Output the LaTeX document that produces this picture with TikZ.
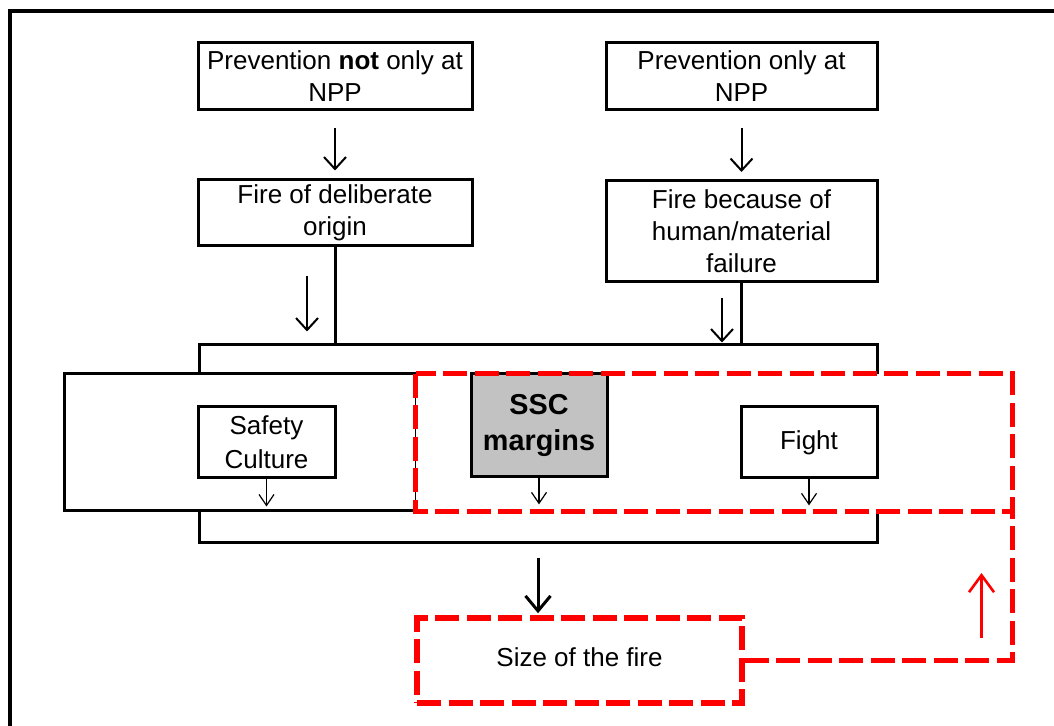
\documentclass[tikz,border=0pt]{standalone}
\usepackage{fontspec}
\setmainfont{Liberation Sans}
\usetikzlibrary{arrows.meta}

\newlength{\du}
\setlength{\du}{0.5pt}

\definecolor{dialinecolor}{rgb}{0.000000, 0.000000, 0.000000}
\definecolor{dialinered}{rgb}{1.000000, 0.000000, 0.000000}
\definecolor{dialinegray}{rgb}{0.760000, 0.760000, 0.760000}

\tikzset{
  box/.style={draw=dialinecolor, line width=1.5pt, fill=white, align=center, inner sep=0pt,
    font=\fontsize{13}{16}\selectfont},
  redbox/.style={draw=dialinered, line width=2.75pt, dash pattern=on 12pt off 3.75pt, fill=white,
    align=center, inner sep=0pt, font=\fontsize{13}{16}\selectfont},
  reddash/.style={draw=dialinered, line width=2.75pt, dash pattern=on 12pt off 3.75pt},
  bigarrow/.style={draw=dialinecolor, line width=1pt, -{Straight Barb[length=6pt,width=11pt]}},
  smallarrow/.style={draw=dialinecolor, line width=0.6pt, -{Straight Barb[length=5.5pt,width=7.5pt]}},
  sizearrow/.style={draw=dialinecolor, line width=1.5pt, -{Straight Barb[length=7.5pt,width=12.5pt]}},
  redarrow/.style={draw=dialinered, line width=1.3pt, -{Straight Barb[length=8.5pt,width=12.5pt]}},
  frame/.style={draw=dialinecolor, line width=1.75pt, line join=miter}
}

\begin{document}
\begin{tikzpicture}
\pgftransformxscale{1.000000}
\pgftransformyscale{-1.000000}
\useasboundingbox (0\du,0\du) rectangle (1054\du,726\du);
\draw[frame] (1054\du,11\du) -- (10\du,11\du) -- (10\du,726\du);

% causes
\node[box, minimum width=274\du, minimum height=67\du] (prevnot) at (335\du,76.5\du)
  {Prevention \textbf{not} only at\\NPP};
\node[box, minimum width=271\du, minimum height=67\du] (prevonly) at (741.5\du,76.5\du)
  {Prevention only at\\NPP};
\node[box, minimum width=274\du, minimum height=66\du] (fireorig) at (335\du,213\du)
  {Fire of deliberate\\origin};
\node[box, minimum width=271\du, minimum height=101\du] (firehum) at (741.5\du,231\du)
  {Fire because of\\human/material\\failure};

% barriers
\node[box, minimum width=678\du, minimum height=197\du] (bigbox) at (538\du,443.5\du) {};
\node[box, minimum width=352\du, minimum height=137\du] (leftbox) at (240\du,442.5\du) {};
\node[fill=white, inner sep=0pt, minimum width=596\du, minimum height=137\du] (redbox) at (714\du,442.5\du) {};
\node[box, minimum width=137\du, minimum height=71\du, font=\fontsize{13}{17}\selectfont] (safety) at (266.5\du,442.5\du)
  {Safety\\Culture};
\node[box, fill=dialinegray, minimum width=136\du, minimum height=103\du, font=\fontsize{14.4}{18}\selectfont\bfseries] (ssc) at (539\du,425.5\du)
  {SSC\\margins};
\node[box, minimum width=136\du, minimum height=71\du] (fight) at (809\du,442.5\du) {Fight};
\draw[reddash] (redbox.north west) rectangle (redbox.south east);

% links
\draw[bigarrow, shorten <=17\du, shorten >=8\du] (prevnot.south) -- (fireorig.north);
\draw[bigarrow, shorten <=17\du, shorten >=7\du] (prevonly.south) -- (prevonly.south |- firehum.north);
\draw[draw=dialinecolor, line width=1.5pt] (fireorig.south) -- (fireorig.south |- bigbox.north);
\draw[draw=dialinecolor, line width=1.5pt] (firehum.south) -- (firehum.south |- bigbox.north);
\draw[bigarrow, shorten <=29\du, shorten >=12\du] ([xshift=-28\du]fireorig.south) -- ([xshift=-28\du]fireorig.south |- bigbox.north);
\draw[bigarrow, shorten <=15\du, shorten >=1\du] ([xshift=-19.5\du]firehum.south) -- ([xshift=-19.5\du]firehum.south |- bigbox.north);
\draw[smallarrow, shorten >=6\du] (safety.south) -- (safety.south |- leftbox.south);
\draw[smallarrow, shorten >=7\du] (ssc.south) -- (ssc.south |- redbox.south);
\draw[smallarrow, shorten >=6\du] (fight.south) -- (fight.south |- redbox.south);

% consequence
\node[redbox, minimum width=325\du, minimum height=85\du] (sizefire) at (579.5\du,660.5\du) {\raisebox{3.5pt}{Size of the fire}};
\draw[sizearrow, shorten <=14\du, shorten >=2\du] (bigbox.south) -- (bigbox.south |- sizefire.north);
\draw[reddash] (sizefire.east) -| (redbox.south east);
\coordinate (feedback) at (981.5\du,638\du);
\draw[redarrow] (feedback) -- ++(0\du,-65\du);
\end{tikzpicture}
\end{document}
